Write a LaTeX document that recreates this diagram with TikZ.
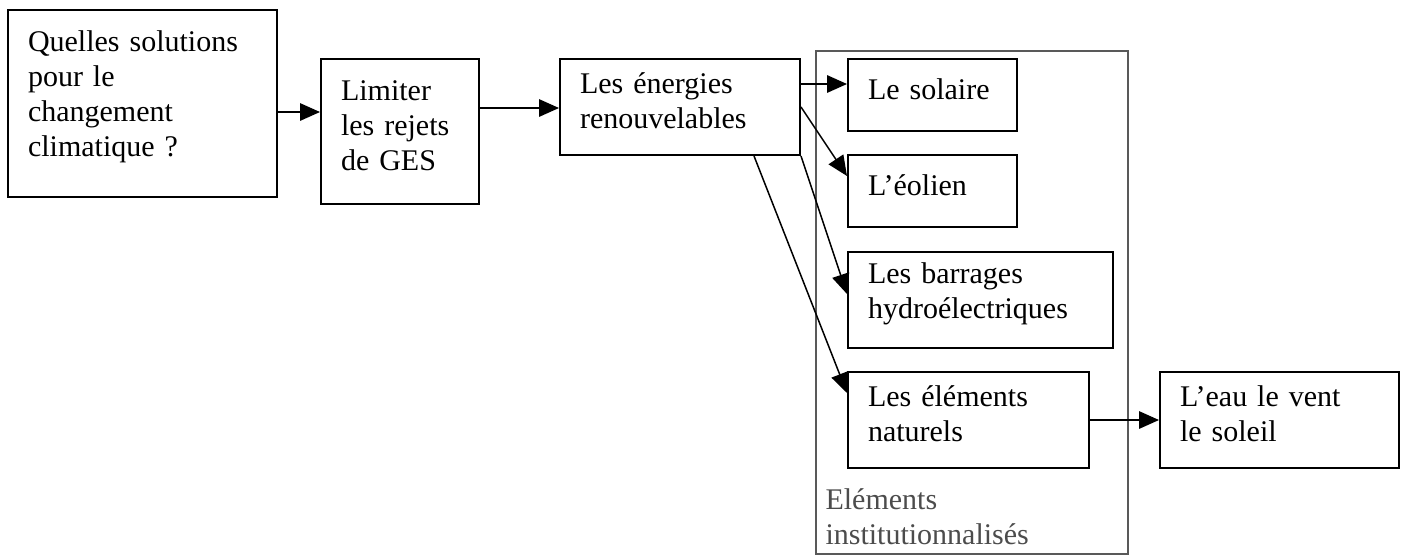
\documentclass[tikz,border=0pt]{standalone}
\usepackage{fontspec}
\setmainfont{Liberation Serif}
\usepackage{tikz}
\usetikzlibrary{arrows.meta}
\tikzset{boite/.style={draw,line width=0.8pt,fill=white,anchor=north west,inner xsep=8pt,inner ysep=0pt,align=left,execute at end node={\par\vspace*{5pt}}}}
\tikzset{fleche/.style={->,line width=0.6pt}}

\begin{document}
\begin{tikzpicture}[x=0.4pt,y=-0.4pt,>={Triangle[length=8pt,width=7pt]},line join=miter,font=\fontsize{12}{14}\selectfont]
\useasboundingbox (0,0) rectangle (1404,554);
% --- cadre gris (elements institutionnalises)
\node[draw=gray!70!black,line width=0.6pt,anchor=north west,minimum width=124.8pt,minimum height=201.2pt,inner sep=0pt] (cadre) at (815,50) {};
\node[text=gray!60!black,anchor=north west,inner sep=0pt,align=left] (inst) at (825,488) {Eléments\\institutionnalisés};
% --- chaine principale
\node[boite,minimum width=107.6pt,minimum height=74.8pt,text width=91.6pt] (question) at (7,9) {Quelles solutions\\pour le\\changement\\climatique ?};
\node[boite,minimum width=63.2pt,minimum height=58pt,text width=47.2pt] (limiter) at (320,58) {Limiter\\les rejets\\de GES};
\node[boite,minimum width=96pt,minimum height=38.4pt,text width=80pt] (energies) at (559,58) {Les énergies\\renouvelables};
% --- les energies
\node[boite,minimum width=67.6pt,minimum height=28.8pt,text width=51.6pt] (solaire) at (847,58) {Le solaire};
\node[boite,minimum width=67.6pt,minimum height=28.8pt,text width=51.6pt] (eolien) at (847,154) {L'éolien};
\node[boite,minimum width=106pt,minimum height=38.4pt,text width=90pt] (barrages) at (847,251) {Les barrages\\hydroélectriques};
\node[boite,minimum width=96.4pt,minimum height=38.4pt,text width=80.4pt] (elements) at (847,371) {Les éléments\\naturels};
\node[boite,minimum width=95.6pt,minimum height=38.4pt,text width=79.6pt] (eau) at (1159,371) {L'eau le vent\\le soleil};
% --- fleches
\coordinate (dq) at ([yshift=-3.4pt]question.east);
\draw[fleche] (dq) -- (dq -| limiter.west);
\coordinate (dl) at ([yshift=9.4pt]limiter.east);
\draw[fleche] (dl) -- (dl -| energies.west);
\coordinate (ds) at ([yshift=4.4pt]solaire.west);
\draw[fleche] (ds -| energies.east) -- (ds);
\draw[fleche] (energies.east) -- ([yshift=6pt]eolien.west);
\draw[fleche] (energies.south east) -- ([yshift=2.4pt]barrages.west);
\draw[fleche] ([xshift=-18.8pt]energies.south east) -- ([yshift=-8.8pt]elements.north west);
\draw[fleche] (elements.east) -- (eau.west);
\end{tikzpicture}
\end{document}
